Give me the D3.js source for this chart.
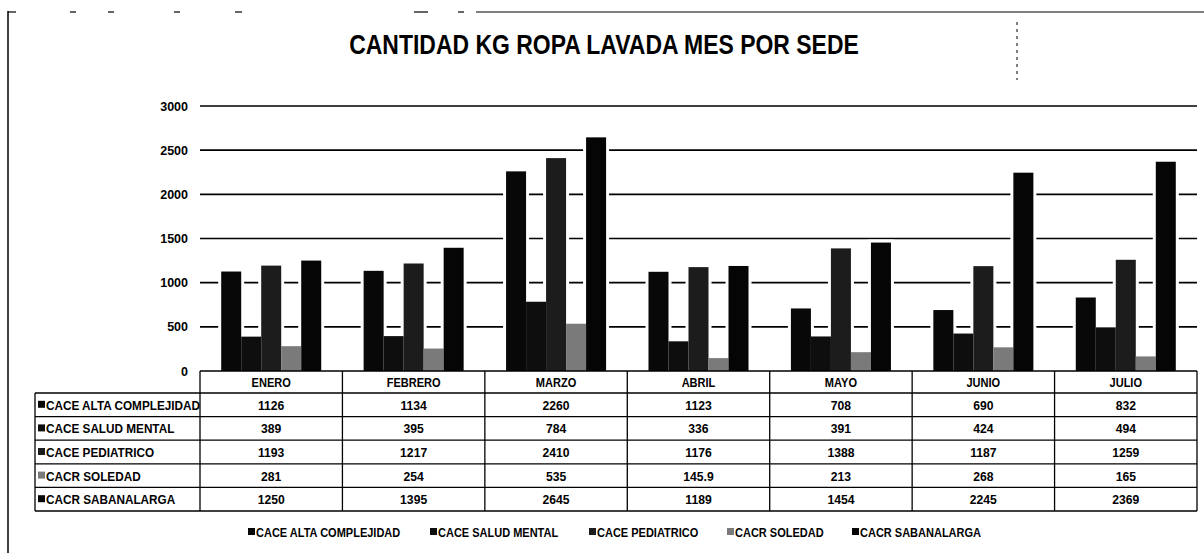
<!DOCTYPE html>
<html>
<head>
<meta charset="utf-8">
<script src="https://cdn.jsdelivr.net/npm/d3@7"></script>
<style>
  body { margin: 0; background: #fff; }
  svg text { font-family: "Liberation Sans", Arial, sans-serif; font-weight: bold; fill: #000; }
</style>
</head>
<body>
<div id="chart"></div>
<script>
// months and series
const months = ['ENERO', 'FEBRERO', 'MARZO', 'ABRIL', 'MAYO', 'JUNIO', 'JULIO'];
const seriesNames = ['CACE ALTA COMPLEJIDAD', 'CACE SALUD MENTAL', 'CACE PEDIATRICO', 'CACR SOLEDAD', 'CACR SABANALARGA'];
const altaComplejidad = [1126, 1134, 2260, 1123, 708, 690, 832];
const saludMental = [389, 395, 784, 336, 391, 424, 494];
const pediatrico = [1193, 1217, 2410, 1176, 1388, 1187, 1259];
const soledad = [281, 254, 535, 145.9, 213, 268, 165];
const sabanalarga = [1250, 1395, 2645, 1189, 1454, 2245, 2369];
const yTicks = [0, 500, 1000, 1500, 2000, 2500, 3000];

const values = [altaComplejidad, saludMental, pediatrico, soledad, sabanalarga];
const colors = ['#080808', '#0e0e0e', '#1c1c1c', '#7a7a7a', '#050505'];

const width = 1204, height = 553;
const plotLeft = 200, plotRight = 1197, plotTop = 106, plotBottom = 371;

const svg = d3.select('#chart').append('svg')
    .attr('width', width)
    .attr('height', height);

// squeeze text a bit, the original font is a narrow one
function narrow(sel, k) {
    sel.each(function () {
        const len = this.getComputedTextLength();
        d3.select(this).attr('textLength', len * k).attr('lengthAdjust', 'spacingAndGlyphs');
    });
}

// scan border
svg.append('line').attr('x1', 8).attr('x2', 8).attr('y1', 11).attr('y2', height)
    .attr('stroke', '#000').attr('stroke-width', 1.5);
svg.append('line').attr('x1', 476).attr('x2', width).attr('y1', 12).attr('y2', 12)
    .attr('stroke', '#000').attr('stroke-width', 1.2);
[[8, 16], [70, 76], [108, 114], [174, 180], [235, 242], [414, 428], [458, 464]].forEach(s => {
    svg.append('line').attr('x1', s[0]).attr('x2', s[1]).attr('y1', 12).attr('y2', 12)
        .attr('stroke', '#000').attr('stroke-width', 1.2);
});
svg.append('line').attr('x1', 1017).attr('x2', 1017).attr('y1', 22).attr('y2', 80)
    .attr('stroke', '#000').attr('stroke-width', 1).attr('stroke-dasharray', '3,4');

// title
svg.append('text')
    .attr('x', 604).attr('y', 54)
    .attr('text-anchor', 'middle')
    .style('font-size', '27px')
    .text('CANTIDAD KG ROPA LAVADA MES POR SEDE')
    .call(narrow, 0.85);

const x0 = d3.scaleBand().domain(months).range([plotLeft, plotRight]);
const x1 = d3.scaleBand().domain(seriesNames).range([0, x0.bandwidth()]).paddingOuter(1.06);
const y = d3.scaleLinear().domain([0, 3000]).range([plotBottom, plotTop]);

// gridlines
svg.append('g')
    .selectAll('line')
    .data(yTicks.slice(1))
    .join('line')
    .attr('x1', plotLeft).attr('x2', plotRight)
    .attr('y1', d => y(d)).attr('y2', d => y(d))
    .attr('stroke', '#000').attr('stroke-width', 1.7);

// y labels
svg.append('g')
    .selectAll('text')
    .data(yTicks)
    .join('text')
    .attr('x', 188).attr('y', d => y(d) + 4.5)
    .attr('text-anchor', 'end')
    .style('font-size', '12.5px')
    .text(d => d);

// bars
const cells = [];
months.forEach((m, i) => seriesNames.forEach((s, j) => cells.push({ m, s, j, v: values[j][i] })));

const bw = x1.step();
svg.append('g')
    .selectAll('rect')
    .data(cells)
    .join('rect')
    .attr('x', d => x0(d.m) + x1(d.s) - 3)
    .attr('width', bw + 6)
    .attr('y', d => y(d.v) - 3)
    .attr('height', d => plotBottom - y(d.v) + 3)
    .attr('fill', '#fff');

svg.append('g')
    .selectAll('rect')
    .data(cells)
    .join('rect')
    .attr('x', d => x0(d.m) + x1(d.s))
    .attr('width', bw)
    .attr('y', d => y(d.v))
    .attr('height', d => plotBottom - y(d.v))
    .attr('fill', d => colors[d.j]);

// data table
const headTop = 371, headBottom = 393, tableBottom = 511, labelLeft = 35;
const rowH = (tableBottom - headBottom) / seriesNames.length;
const t = svg.append('g').attr('stroke', '#000').attr('stroke-width', 1.3);

t.append('line').attr('x1', plotLeft).attr('x2', plotRight).attr('y1', headTop).attr('y2', headTop);
seriesNames.forEach((s, j) => {
    t.append('line').attr('x1', labelLeft).attr('x2', plotRight)
        .attr('y1', headBottom + j * rowH).attr('y2', headBottom + j * rowH);
});
t.append('line').attr('x1', labelLeft).attr('x2', plotRight).attr('y1', tableBottom).attr('y2', tableBottom);
t.append('line').attr('x1', labelLeft).attr('x2', labelLeft).attr('y1', headBottom).attr('y2', tableBottom);
months.forEach(m => {
    t.append('line').attr('x1', x0(m)).attr('x2', x0(m)).attr('y1', headTop).attr('y2', tableBottom);
});
t.append('line').attr('x1', plotRight).attr('x2', plotRight).attr('y1', headTop).attr('y2', tableBottom);

svg.append('g')
    .selectAll('text')
    .data(months)
    .join('text')
    .attr('x', d => x0(d) + x0.bandwidth() / 2)
    .attr('y', (headTop + headBottom) / 2 + 4.5)
    .attr('text-anchor', 'middle')
    .style('font-size', '12px')
    .text(d => d)
    .call(narrow, 0.92);

seriesNames.forEach((s, j) => {
    const cy = headBottom + j * rowH + rowH / 2;
    svg.append('rect').attr('x', 38).attr('y', cy - 4).attr('width', 7).attr('height', 7)
        .attr('fill', colors[j]);
    svg.append('text').attr('x', 46).attr('y', cy + 5)
        .style('font-size', '13.5px')
        .text(s)
        .call(narrow, 0.87);
    svg.append('g')
        .selectAll('text')
        .data(months)
        .join('text')
        .attr('x', d => x0(d) + x0.bandwidth() / 2)
        .attr('y', cy + 5)
        .attr('text-anchor', 'middle')
        .style('font-size', '13.5px')
        .text((d, i) => values[j][i])
        .call(narrow, 0.9);
});

// legend
const legendX = [248, 430, 589, 727, 852];
const legend = svg.append('g')
    .selectAll('g')
    .data(seriesNames)
    .join('g')
    .attr('transform', (d, j) => `translate(${legendX[j]},532)`);
legend.append('rect').attr('x', 0).attr('y', -4).attr('width', 7).attr('height', 7)
    .attr('fill', (d, j) => colors[j]);
legend.append('text').attr('x', 8).attr('y', 4.5)
    .style('font-size', '12.5px')
    .text(d => d)
    .call(narrow, 0.88);
</script>
</body>
</html>
